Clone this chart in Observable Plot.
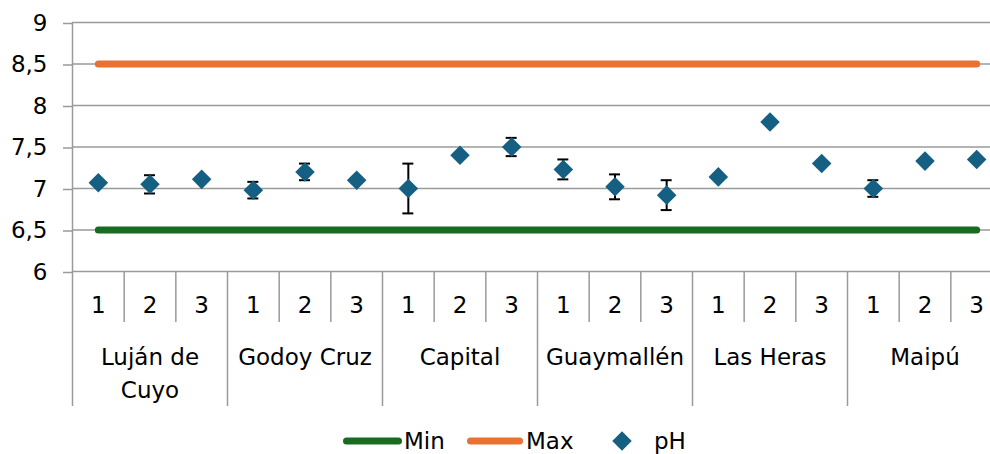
<!DOCTYPE html>
<html><head><meta charset="utf-8">
<script src="https://cdn.jsdelivr.net/npm/d3@7"></script>
<script src="https://cdn.jsdelivr.net/npm/@observablehq/plot@0.6"></script>
<style>
body{margin:0;background:#fff;font-family:"DejaVu Sans",sans-serif;}
#chart{position:relative;width:990px;height:454px;overflow:hidden;}
#chart svg{display:block;}
</style>
</head><body><div id="chart"></div>
<script>
// ---- data ----
const groups = ["Luján de Cuyo","Godoy Cruz","Capital","Guaymallén","Las Heras","Maipú"];
const groupLabels = ["Luján de\nCuyo","Godoy Cruz","Capital","Guaymallén","Las Heras","Maipú"];
const samples = ["1","2","3"];
const phValues = [7.07,7.05,7.11, 6.98,7.20,7.10, 7.00,7.40,7.50, 7.23,7.02,6.92, 7.14,7.80,7.30, 7.00,7.33,7.35];
const phErrors = [0,0.11,0, 0.10,0.10,0, 0.30,0,0.11, 0.12,0.15,0.18, 0,0,0, 0.10,0,0];
const minLimit = 6.5;
const maxLimit = 8.5;
const yTicks = [6,6.5,7,7.5,8,8.5,9];
const legendLabels = ["Min","Max","pH"];

// ---- derived tables ----
const keys = groups.flatMap(g => samples.map(s => g + "|" + s));
const phData = keys.map((k, i) => ({key: k, v: phValues[i], e: phErrors[i]}));
const errData = phData.filter(d => d.e > 0);
const minData = keys.map(k => ({key: k, v: minLimit}));
const maxData = keys.map(k => ({key: k, v: maxLimit}));
const groupMid = groups.map(g => g + "|2");
const labelOf = Object.fromEntries(groups.map((g, i) => [g + "|2", groupLabels[i]]));

const W = 990, H = 426;
const x0 = 72, x1 = 1002;
const bw = (x1 - x0) / keys.length;
const gray = "#9a9a9a";
const fs = 23;
const cGreen = "#196B24", cOrange = "#E97132", cBlue = "#156082";

const chart = Plot.plot({
  width: W, height: H,
  marginTop: 22, marginBottom: 155, marginLeft: 72, marginRight: 0,
  style: {fontFamily: '"DejaVu Sans", sans-serif', fontSize: fs + "px", color: "#000", background: "#fff", overflow: "visible"},
  x: {type: "band", domain: keys, range: [x0, x1], padding: 0, round: false, axis: null},
  y: {domain: [6, 9], axis: null},
  marks: [
    Plot.gridY(yTicks, {stroke: gray, strokeOpacity: 1, strokeWidth: 1.5}),
    Plot.axisY(yTicks, {label: null, tickSize: 9, tickPadding: 16, stroke: gray, strokeOpacity: 1, strokeWidth: 1.5,
      tickFormat: d => String(d).replace(".", ","), fontSize: fs, fill: "#000", dy: 1}),
    // left axis line
    Plot.ruleX([keys[0]], {dx: -bw / 2, stroke: gray, strokeWidth: 1.5}),
    // short dividers between sample labels
    Plot.axisX(keys.filter(k => !k.endsWith("|1")), {label: null, tickSize: 51, dx: -bw / 2, stroke: gray, strokeOpacity: 1, strokeWidth: 1.5, tickFormat: () => ""}),
    // long group dividers
    Plot.axisX(keys.filter(k => k.endsWith("|1")), {label: null, tickSize: 135, dx: -bw / 2, stroke: gray, strokeOpacity: 1, strokeWidth: 1.5, tickFormat: () => ""}),
    // sample labels
    Plot.axisX(keys, {label: null, tickSize: 0, tickPadding: 25, tickFormat: k => k.split("|")[1], fontSize: fs, fill: "#000"}),
    // group labels
    Plot.axisX(groupMid, {label: null, tickSize: 0, tickPadding: 71, tickFormat: k => labelOf[k], fontSize: fs, fill: "#000", lineHeight: 1.4}),
    // limits
    Plot.lineY(minData, {x: "key", y: "v", stroke: cGreen, strokeWidth: 7, strokeLinecap: "round"}),
    Plot.lineY(maxData, {x: "key", y: "v", stroke: cOrange, strokeWidth: 7, strokeLinecap: "round"}),
    // error bars
    Plot.ruleX(errData, {x: "key", y1: d => d.v - d.e, y2: d => d.v + d.e, stroke: "#000", strokeWidth: 2}),
    Plot.tickY(errData, {x: "key", y: d => d.v - d.e, stroke: "#000", strokeWidth: 2, insetLeft: (bw - 11) / 2, insetRight: (bw - 11) / 2}),
    Plot.tickY(errData, {x: "key", y: d => d.v + d.e, stroke: "#000", strokeWidth: 2, insetLeft: (bw - 11) / 2, insetRight: (bw - 11) / 2}),
    // pH points
    Plot.dot(phData, {x: "key", y: "v", symbol: "diamond2", r: 8.8, fill: cBlue, stroke: "none"})
  ]
});

const root = document.getElementById("chart");
root.appendChild(chart);

// legend below the plot
const leg = d3.create("svg").attr("width", W).attr("height", 28).style("display", "block")
  .style("font-family", '"DejaVu Sans", sans-serif').style("font-size", fs + "px");
const cy = 15;
leg.append("line").attr("x1", 346.5).attr("x2", 398.5).attr("y1", cy).attr("y2", cy)
  .attr("stroke", cGreen).attr("stroke-width", 7).attr("stroke-linecap", "round");
leg.append("text").attr("x", 404).attr("y", cy).attr("dy", "0.36em").text(legendLabels[0]);
leg.append("line").attr("x1", 470.5).attr("x2", 519.5).attr("y1", cy).attr("y2", cy)
  .attr("stroke", cOrange).attr("stroke-width", 7).attr("stroke-linecap", "round");
leg.append("text").attr("x", 526).attr("y", cy).attr("dy", "0.36em").text(legendLabels[1]);
leg.append("path").attr("d", d3.symbol(d3.symbolDiamond2, Math.PI * 8.8 * 8.8)()).attr("transform", `translate(622,${cy})`).attr("fill", cBlue);
leg.append("text").attr("x", 654).attr("y", cy).attr("dy", "0.36em").text(legendLabels[2]);
root.appendChild(leg.node());
</script></body></html>
